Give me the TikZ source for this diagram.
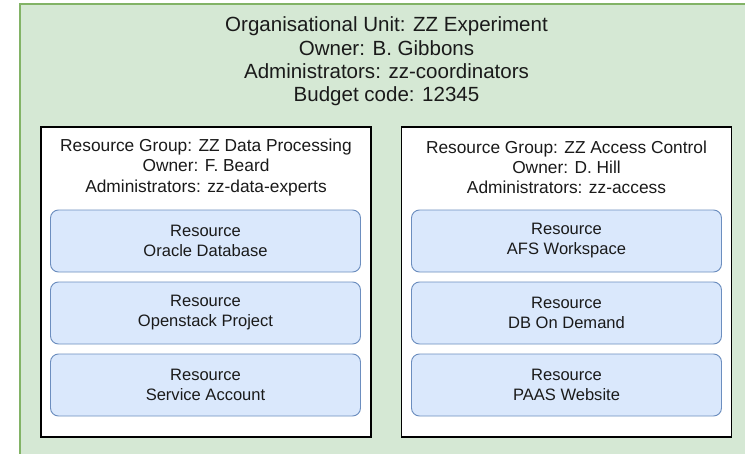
\documentclass[tikz,border=0pt]{standalone}
\usepackage{fontspec}
\setmainfont{Liberation Sans}
\definecolor{unitfill}{HTML}{D5E8D4}
\definecolor{unitline}{HTML}{82B366}
\definecolor{resfill}{HTML}{DAE8FC}
\definecolor{resline}{HTML}{6C8EBF}
\definecolor{ink}{HTML}{1A1A1A}
\tikzset{
  unitbox/.style={draw=unitline, fill=unitfill, line width=0.8pt},
  groupbox/.style={draw=black, fill=white, line width=0.8pt, inner sep=0pt,
    minimum width=330*0.75pt, minimum height=310*0.75pt},
  resbox/.style={draw=resline, fill=resfill, line width=0.7pt, rounded corners=6pt,
    inner sep=0pt, minimum width=310*0.75pt, minimum height=62*0.75pt,
    align=center, text=ink, font=\fontsize{12.4}{15}\selectfont},
  unittext/.style={align=center, text=ink, font=\fontsize{15.4}{17.5}\selectfont},
  grouptext/.style={align=center, text=ink, font=\fontsize{13}{15.2}\selectfont},
}
\begin{document}
\begin{tikzpicture}[x=0.75pt, y=-0.75pt]
\useasboundingbox (0,0) rectangle (745,453);
\clip (0,0) rectangle (745,453);
% organisational unit container
\draw[unitbox] (20,4) rectangle (780,480);
\node[unittext] (unit) at (386.5,61.5) {Organisational Unit: ZZ Experiment\\Owner: B. Gibbons\\Administrators: zz-coordinators\\Budget code: 12345};

% resource groups
\node[groupbox] (g1) at (206,282) {};
\node[groupbox] (g2) at (566.5,282) {};
\node[grouptext] (g1t) at (206,167.5) {Resource Group: ZZ Data Processing\\Owner: F. Beard\\Administrators: zz-data-experts};
\node[grouptext] (g2t) at (566.5,167.5) {Resource Group: ZZ Access Control\\Owner: D. Hill\\Administrators: zz-access};

% resources
\node[resbox] (r11) at (205.5,241) {Resource\\Oracle Database};
\node[resbox] (r12) at (205.5,313) {Resource\\Openstack Project};
\node[resbox] (r13) at (205.5,385) {Resource\\Service Account};
\node[resbox] (r21) at (566.5,241) {Resource\\AFS Workspace};
\node[resbox] (r22) at (566.5,313) {Resource\\DB On Demand};
\node[resbox] (r23) at (566.5,385) {Resource\\PAAS Website};
\end{tikzpicture}
\end{document}
